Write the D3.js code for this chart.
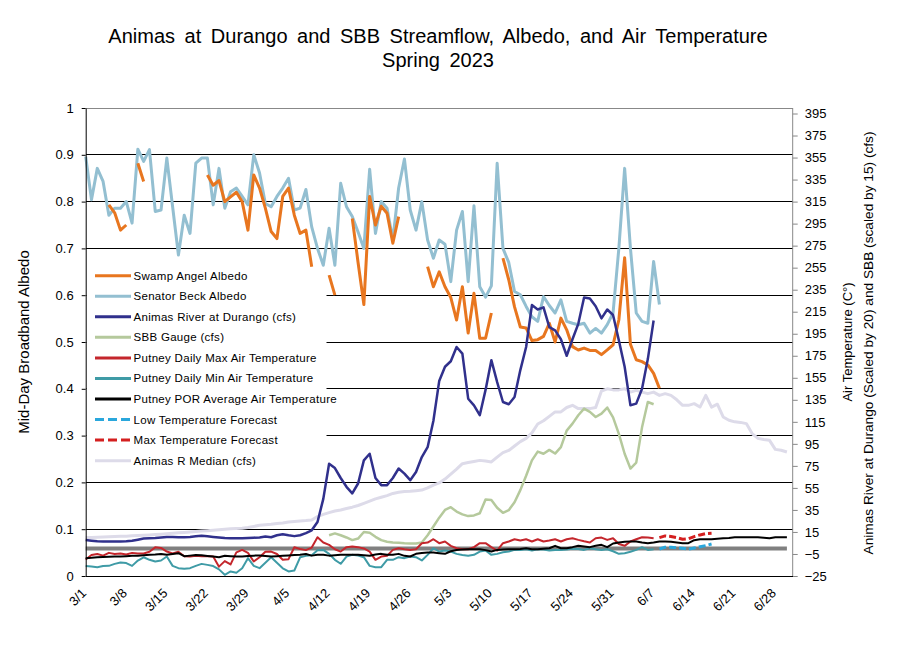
<!DOCTYPE html>
<html><head><meta charset="utf-8">
<script src="https://cdn.jsdelivr.net/npm/d3@7"></script>
<style>body{margin:0;background:#fff}svg{display:block}text{font-family:"Liberation Sans",Arial,sans-serif;fill:#000}</style>
</head><body><svg id="c" width="909" height="660"></svg>
<script>
// ---------- DATA (day index 0 = 3/1/2023, 122 days to 6/30) ----------
const tickLabels = ["3/1","3/8","3/15","3/22","3/29","4/5","4/12","4/19","4/26","5/3","5/10","5/17","5/24","5/31","6/7","6/14","6/21","6/28"];
const leftTicks = [0,0.1,0.2,0.3,0.4,0.5,0.6,0.7,0.8,0.9,1];
const rightTicks = [-25,-5,15,35,55,75,95,115,135,155,175,195,215,235,255,275,295,315,335,355,375,395];

const swampAngel = [null,null,null,null,0.793,0.776,0.739,0.75,null,0.882,0.843,
 null,null,null,null,null,null,null,null,null,null,
 0.857,0.835,0.845,0.80,0.81,0.82,0.80,0.739,0.857,0.829,0.786,0.736,0.721,0.811,0.829,0.771,0.732,0.739,0.661,
 null,null,0.643,0.60,null,null,
 0.764,0.67,0.58,0.811,0.75,0.79,0.775,0.711,0.768,
 null,null,null,null,
 0.661,0.618,0.65,0.618,0.595,0.547,0.618,0.519,0.604,0.508,0.508,0.562,
 null,
 0.679,0.633,0.575,0.532,0.53,0.503,0.505,0.512,0.54,0.50,0.551,0.526,0.49,0.483,0.487,0.482,0.482,0.473,0.483,0.494,0.547,0.68,0.495,0.462,0.458,0.451,0.433,0.401,
 null,null,null,null,null,null,null,null,null,null,null,null,null,null,null,null,null,null,null,null,null,null];

const senatorBeck = [0.896,0.804,0.871,0.843,0.771,0.786,0.786,0.80,0.754,0.912,
 0.886,0.911,0.779,0.782,0.893,0.789,0.686,0.771,0.732,0.882,
 0.893,0.893,0.793,0.871,0.786,0.821,0.829,0.811,0.793,0.90,
 0.861,0.796,0.789,0.811,0.829,0.85,0.782,0.786,0.826,0.746,
 0.70,0.664,0.743,0.664,0.839,0.789,0.768,0.735,0.70,0.869,
 0.732,0.80,0.786,0.718,0.829,0.891,0.782,0.739,0.80,0.718,
 0.679,0.718,0.709,0.629,0.739,0.779,0.629,0.791,0.618,0.596,
 0.62,0.882,0.70,0.67,0.608,0.601,0.576,0.554,0.544,0.597,
 0.578,0.562,0.59,0.544,0.54,0.537,0.54,0.519,0.529,0.519,
 0.537,0.562,0.70,0.871,0.70,0.562,0.544,0.54,0.672,0.58,
 null,null,null,null,null,null,null,null,null,null,null,null,null,null,null,null,null,null,null,null,null,null];

// scaled flows (right axis)
const animasDurango = [7.6,7,6.5,6.3,6.3,6.3,6.3,6.5,7,8,
 9,9.3,9.5,10,10.5,10.5,10.2,10.2,10.5,11,
 11.5,11,10.5,10,9.5,9.3,9.3,9.3,9.5,9.8,
 10,10.8,10.2,12,13,12,11.2,12,14,16.5,
 24,45,77,73,64,56,50,59,80,86,
 64,57.5,57.5,64,72.6,68,62,69.5,83,92,
 116,152,165,170,183,177,136,130,121,144,
 171,151,133,131,137.5,162,183,221,217,219,
 201,198,190,175,190,204,228,227,220,209,
 217,212,189,165,130,131.5,145,172,207,
 null,null,null,null,null,null,null,null,null,null,null,null,null,null,null,null,null,null,null,null,null,null,null];

const sbbGauge = [null,null,null,null,null,null,null,null,null,null,
 null,null,null,null,null,null,null,null,null,null,
 null,null,null,null,null,null,null,null,null,null,
 null,null,null,null,null,null,null,null,null,null,
 null,null,12,13.7,12,10,7.6,9,15,14.3,
 10.6,7.6,6.1,5.5,5.2,4.8,4.6,4.6,5.5,12,
 20,28,35,37.5,33.5,31,29.4,30,32,44.5,
 44,37,32.4,34.8,42,53,66,80,88,86,
 89.5,86.2,92,107,113.4,121,127,124,119.4,122.4,
 128,119,104,86,72.6,78,110,133,131,
 null,null,null,null,null,null,null,null,null,null,null,null,null,null,null,null,null,null,null,null,null,null,null];

const animasMedian = [10,10,10.2,10.4,10.6,10.8,11,11.2,11.5,11.8,
 12,12.3,12.6,13,13.4,13.8,14.2,14.6,15,15.5,
 15.8,16.2,16.6,17,17.5,18,18.2,18.3,19,20,
 21,21.5,22,22.7,23.2,24,24.5,25,25.3,25.8,
 29,31,32.5,34,35,36.3,37.5,39,41,43,
 45,46.5,48,50,51,51.8,52,52.5,53,55,
 57.5,59.5,63,67.5,72,77,78,79,80,79.5,
 78.6,83,87,89,93,97,100,105,113,116,
 120,124,124,128,130,127,127,127,128,143,
 145,144,144,145,142,143.6,142,140.6,142,139,
 140.6,139,135,130,130,131.5,128.4,139,128.4,131,
 119.4,116.4,115,114.5,113.4,104.3,100,99,98.2,90,
 89.2,87.6];

// temperatures (deg C, right axis)
const maxTemp = [-10,-6,-5,-6.5,-4,-5,-4.5,-5.5,-4,-4.5,
 -4.5,-3,1,0.5,-2.8,-4.5,-3,-7,-7.3,-6.7,
 -7,-7,-7.3,-16.5,-11.5,-14.5,-3.5,-1.3,-4,-11.8,
 -8,-3,-2.8,-5,-10.3,-9.7,1.1,-0.5,-1.5,0.8,
 10.2,5.4,3.3,-0.7,-2.8,1.2,1.8,1.2,0,-2.8,
 -10.3,-7.3,-6.7,-1.3,0.2,-0.7,-1.3,-0.7,4.8,5.4,
 8.4,4.8,6.3,2.4,0.2,-0.7,-0.7,1.2,4.8,4.8,
 1.2,-1.9,4.8,6.3,8.4,7.2,8.4,6.3,8.4,6.3,
 7.2,8.4,6.3,8.4,9.3,7.8,6.5,5.4,9.3,9.9,
 7.8,9.3,4,2.4,6.3,8.4,10.2,10,9.3,
 null,null,null,null,null,null,null,null,null,null,null,null,null,null,null,null,null,null,null,null,null,null,null];

const minTemp = [-16,-16.4,-17,-16,-15.8,-14,-12.8,-13.3,-15.8,-11,
 -8,-10.3,-11.8,-10.9,-7.3,-15.8,-17.9,-18.5,-17.9,-15.8,
 -14,-14.9,-16,-19,-23.9,-20.9,-22,-17.9,-8.8,-15.8,
 -17.9,-13,-8,-13,-18,-20.9,-20,-8,-6.7,-6.2,
 -1.6,-1.3,-4.9,-10.3,-13.9,-7.3,-5.8,-6.5,-7.9,-15.8,
 -17,-17,-10.3,-10.3,-7.9,-8.8,-7.3,-7.9,-10.9,-5.8,
 0.2,-2.8,-1.9,-2.8,-4.9,-6,-6.7,-5.8,-2.8,-1.9,
 -5.8,-4.9,-3.5,-2.8,-1.3,-1.3,-0.7,-1.9,-0.7,-0.9,
 -1.9,-1.3,-1.3,-0.9,-0.2,-0.5,-1.3,0.2,-0.7,-1.3,
 -0.7,-2.5,-4.9,-4.3,-3,-1.3,1.2,-1.3,-0.7,
 null,null,null,null,null,null,null,null,null,null,null,null,null,null,null,null,null,null,null,null,null,null,null];

const porAvgTemp = [-8.8,-8.5,-8,-7.8,-7.6,-7.3,-7.2,-7,-6.7,-6.5,
 -6.2,-5.8,-5.5,-5,-5.8,-5,-4.3,-7,-6.5,-6,
 -6.2,-6.8,-7.3,-7.9,-6.7,-7,-7.2,-7.3,-6.8,-6.5,
 -6.4,-6.8,-7.3,-7,-6.7,-6.3,-6,-5.8,-5,-6.5,
 -5.8,-5.8,-6.5,-6.2,-5.8,-5.8,-5.8,-5.8,-6.2,-6.7,
 -5.5,-4.9,-5.8,-5.8,-4.9,-6.7,-7.3,-4.9,-4.2,-3.7,
 -3.7,-4.3,-4.9,-2.5,-1.3,-1,-0.7,-0.7,-0.7,-1.5,
 -2.8,-1.3,-1,-0.7,-0.7,-0.5,0.2,-0.7,-0.7,-0.3,
 0.2,2.4,0.2,0.2,1.2,2.4,1.8,1.2,2.4,3.3,
 1.2,4.5,5.4,6,6.3,6.3,5.4,4.8,5.4,6.3,
 6.3,6,5.4,4.8,4.8,7.5,8.4,8.4,8.4,8.8,
 9.3,9.6,10.2,10.2,10.2,10.2,10.2,9.8,9.3,10.2,
 10.2,10.2];

const lowForecast = [null,null,null,null,null,null,null,null,null,null,
 null,null,null,null,null,null,null,null,null,null,
 null,null,null,null,null,null,null,null,null,null,
 null,null,null,null,null,null,null,null,null,null,
 null,null,null,null,null,null,null,null,null,null,
 null,null,null,null,null,null,null,null,null,null,
 null,null,null,null,null,null,null,null,null,null,
 null,null,null,null,null,null,null,null,null,null,
 null,null,null,null,null,null,null,null,null,null,
 null,null,null,null,null,null,null,null,null,
 -0.5,1.2,1.2,0.6,0.2,-0.7,0.5,1.5,2.6,4,
 null,null,null,null,null,null,null,null,null,null,null,null,null];

const maxForecast = [null,null,null,null,null,null,null,null,null,null,
 null,null,null,null,null,null,null,null,null,null,
 null,null,null,null,null,null,null,null,null,null,
 null,null,null,null,null,null,null,null,null,null,
 null,null,null,null,null,null,null,null,null,null,
 null,null,null,null,null,null,null,null,null,null,
 null,null,null,null,null,null,null,null,null,null,
 null,null,null,null,null,null,null,null,null,null,
 null,null,null,null,null,null,null,null,null,null,
 null,null,null,null,null,null,null,null,null,
 9.8,11.4,10.8,9.8,8.4,8.8,10.8,12.3,13.5,13.8,
 null,null,null,null,null,null,null,null,null,null,null,null,null];

const freezingLine = [0,0]; // 0 deg C reference, first to last day

// ---------- CHART ----------
const svg = d3.select("#c");
const N = 122;
const x = d3.scaleLinear().domain([0, N]).range([85.7, 792.7]);
const yL = d3.scaleLinear().domain([0, 1]).range([576, 108]);
const yR = d3.scaleLinear().domain([-25, 400]).range([576, 108]);

// title
const title = svg.append("g").attr("font-size", 20);
title.append("text").attr("x", 438).attr("y", 43).attr("text-anchor", "middle").attr("word-spacing", 4)
  .text("Animas at Durango and SBB Streamflow, Albedo, and Air Temperature");
title.append("text").attr("x", 438).attr("y", 67).attr("text-anchor", "middle").attr("word-spacing", 4)
  .text("Spring 2023");

// gridlines
svg.append("g").selectAll("line").data(leftTicks.filter(d => d > 0 && d < 1)).join("line")
  .attr("x1", x(0)).attr("x2", x(N)).attr("y1", d => yL(d)).attr("y2", d => yL(d))
  .attr("stroke", "#000").attr("stroke-width", 1).attr("shape-rendering", "crispEdges");
svg.append("line").attr("x1", x(0)).attr("x2", x(N)).attr("y1", yL(1)).attr("y2", yL(1))
  .attr("stroke", "#888").attr("stroke-width", 1).attr("shape-rendering", "crispEdges");

function draw(arr, yS, color, w, dash) {
  const line = d3.line().defined(d => d != null).x((d, i) => x(i)).y(d => yS(d));
  const p = svg.append("path").datum(arr).attr("d", line).attr("fill", "none")
    .attr("stroke", color).attr("stroke-width", w).attr("stroke-linejoin", "round");
  if (dash) p.attr("stroke-dasharray", dash);
  return p;
}

// legend box (drawn under the series except the box mask on gridlines)
const lg = svg.append("g");
lg.append("rect").attr("x", 86.5).attr("y", 265).attr("width", 240).attr("height", 206).attr("fill", "#fff");

// primary (albedo) series
draw(senatorBeck, yL, "#93bfd1", 3);
draw(swampAngel, yL, "#e8761f", 3);

// secondary series
svg.append("path").datum(freezingLine)
  .attr("d", d3.line().x((d, k) => x(k === 0 ? 0 : N - 1)).y(d => yR(d)))
  .attr("stroke", "#808080").attr("stroke-width", 4).attr("fill", "none");
draw(animasMedian, yR, "#dddbe9", 3);
draw(sbbGauge, yR, "#b5c99c", 2.5);
draw(animasDurango, yR, "#30308c", 2.5);
draw(minTemp, yR, "#3f9ba6", 2);
draw(maxTemp, yR, "#c4262c", 2);
draw(porAvgTemp, yR, "#000", 2);
draw(lowForecast, yR, "#2aa7dc", 3, "7,3");
draw(maxForecast, yR, "#d41f1f", 3, "7,3");

// axes
const axL = svg.append("g").attr("transform", `translate(${x(0)},0)`)
  .call(d3.axisLeft(yL).tickValues(leftTicks).tickSize(4).tickSizeOuter(0).tickPadding(8)
    .tickFormat(d => d === 0 ? "0" : d === 1 ? "1" : d.toFixed(1)));
axL.selectAll("text").attr("font-size", 13).attr("font-family", '"Liberation Sans",Arial,sans-serif');
axL.selectAll("path,line").attr("stroke", "#000");

const axR = svg.append("g").attr("transform", `translate(${x(N)},0)`)
  .call(d3.axisRight(yR).tickValues(rightTicks).tickSize(5).tickSizeOuter(0).tickPadding(7));
axR.selectAll("text").attr("font-size", 13).attr("font-family", '"Liberation Sans",Arial,sans-serif');
axR.selectAll("path,line").attr("stroke", "#888");
axR.select(".domain").attr("d", `M0,${yR(-25)}V${yL(1)}`);

svg.append("line").attr("x1", x(0)).attr("x2", x(N)).attr("y1", 576).attr("y2", 576)
  .attr("stroke", "#000").attr("stroke-width", 1).attr("shape-rendering", "crispEdges");

// x labels
svg.append("g").selectAll("text").data(tickLabels).join("text")
  .attr("transform", (d, k) => `translate(${x(k * 7) + 1.5},594) rotate(-45)`)
  .attr("text-anchor", "end").attr("font-size", 13).text(d => d);

// axis titles
svg.append("text").attr("transform", "translate(29,342) rotate(-90)").attr("text-anchor", "middle")
  .attr("font-size", 15).text("Mid-Day Broadband Albedo");
svg.append("text").attr("transform", "translate(852,342) rotate(-90)").attr("text-anchor", "middle")
  .attr("font-size", 13).text("Air Temperature (C°)");
svg.append("text").attr("transform", "translate(873,343) rotate(-90)").attr("text-anchor", "middle")
  .attr("font-size", 13.7).text("Animas River at Durango (Scaled by 20) and SBB (scaled by 15) (cfs)");

// legend entries
const legendItems = [
  ["Swamp Angel Albedo", "#e8761f", null],
  ["Senator Beck Albedo", "#93bfd1", null],
  ["Animas River at Durango (cfs)", "#30308c", null],
  ["SBB Gauge (cfs)", "#b5c99c", null],
  ["Putney Daily Max Air Temperature", "#c4262c", null],
  ["Putney Daily Min Air Temperature", "#3f9ba6", null],
  ["Putney POR Average Air Temperature", "#000", null],
  ["Low Temperature Forecast", "#2aa7dc", "9,4"],
  ["Max Temperature Forecast", "#d41f1f", "9,4"],
  ["Animas R Median (cfs)", "#dddbe9", null]
];
const rows = svg.append("g").selectAll("g").data(legendItems).join("g")
  .attr("transform", (d, k) => `translate(0,${275.7 + k * 20.55})`);
rows.append("line").attr("x1", 95).attr("x2", 131).attr("y1", 0).attr("y2", 0)
  .attr("stroke", d => d[1]).attr("stroke-width", 3).attr("stroke-dasharray", d => d[2]);
rows.append("text").attr("x", 133.5).attr("y", 4).attr("font-size", 11.5).attr("letter-spacing", 0.3).text(d => d[0]);
</script></body></html>
